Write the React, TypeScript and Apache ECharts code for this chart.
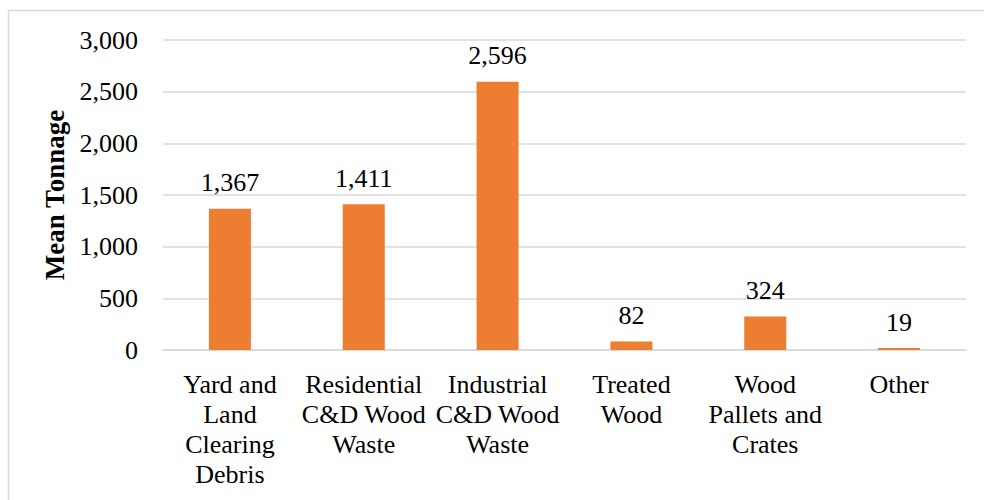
import React, { useEffect, useRef } from "react";
import * as echarts from "echarts";

const categories = [
  "Yard and\nLand\nClearing\nDebris",
  "Residential\nC&D Wood\nWaste",
  "Industrial\nC&D Wood\nWaste",
  "Treated\nWood",
  "Wood\nPallets and\nCrates",
  "Other",
];
const meanTonnage = [1367, 1411, 2596, 82, 324, 19];
const yTicks = { min: 0, max: 3000, interval: 500 };

const FONT = "Liberation Serif";

export default function App() {
  const ref = useRef<HTMLDivElement>(null);
  useEffect(() => {
    if (!ref.current) return;
    const chart = echarts.init(ref.current, null, { renderer: "svg" });
    chart.setOption({
      animation: false,
      backgroundColor: "#ffffff",
      textStyle: { fontFamily: FONT },
      graphic: [
        {
          type: "rect",
          shape: { x: 8.5, y: 10.5, width: 1100, height: 600 },
          style: { fill: "none", stroke: "#d9d9d9", lineWidth: 1.5 },
          silent: true,
        },
      ],
      grid: { left: 163, right: 18, top: 40, bottom: 150 },
      xAxis: {
        type: "category",
        data: categories,
        axisLine: { show: true, lineStyle: { color: "#d9d9d9", width: 1.5 } },
        axisTick: { show: false },
        axisLabel: {
          interval: 0,
          color: "#000",
          fontFamily: FONT,
          fontSize: 26,
          lineHeight: 30,
          margin: 19,
        },
      },
      yAxis: {
        type: "value",
        min: yTicks.min,
        max: yTicks.max,
        interval: yTicks.interval,
        name: "Mean Tonnage",
        nameLocation: "middle",
        nameGap: 88,
        nameTextStyle: {
          color: "#000",
          fontFamily: FONT,
          fontSize: 27,
          fontWeight: "bold",
        },
        axisLine: { show: false },
        axisTick: { show: false },
        splitLine: { lineStyle: { color: "#d9d9d9", width: 1.5 } },
        axisLabel: {
          color: "#000",
          fontFamily: FONT,
          fontSize: 26,
          margin: 25,
          formatter: (v: number) => v.toLocaleString("en-US"),
        },
      },
      series: [
        {
          type: "bar",
          data: meanTonnage,
          barWidth: 42,
          itemStyle: { color: "#ED7D31" },
          label: {
            show: true,
            position: "top",
            distance: 13,
            color: "#000",
            fontFamily: FONT,
            fontSize: 26,
            formatter: (p: any) => Number(p.value).toLocaleString("en-US"),
          },
        },
      ],
    });
    return () => chart.dispose();
  }, []);
  return (
    <div
      ref={ref}
      style={{ position: "absolute", left: 0, top: 0, width: 984, height: 500 }}
    />
  );
}
